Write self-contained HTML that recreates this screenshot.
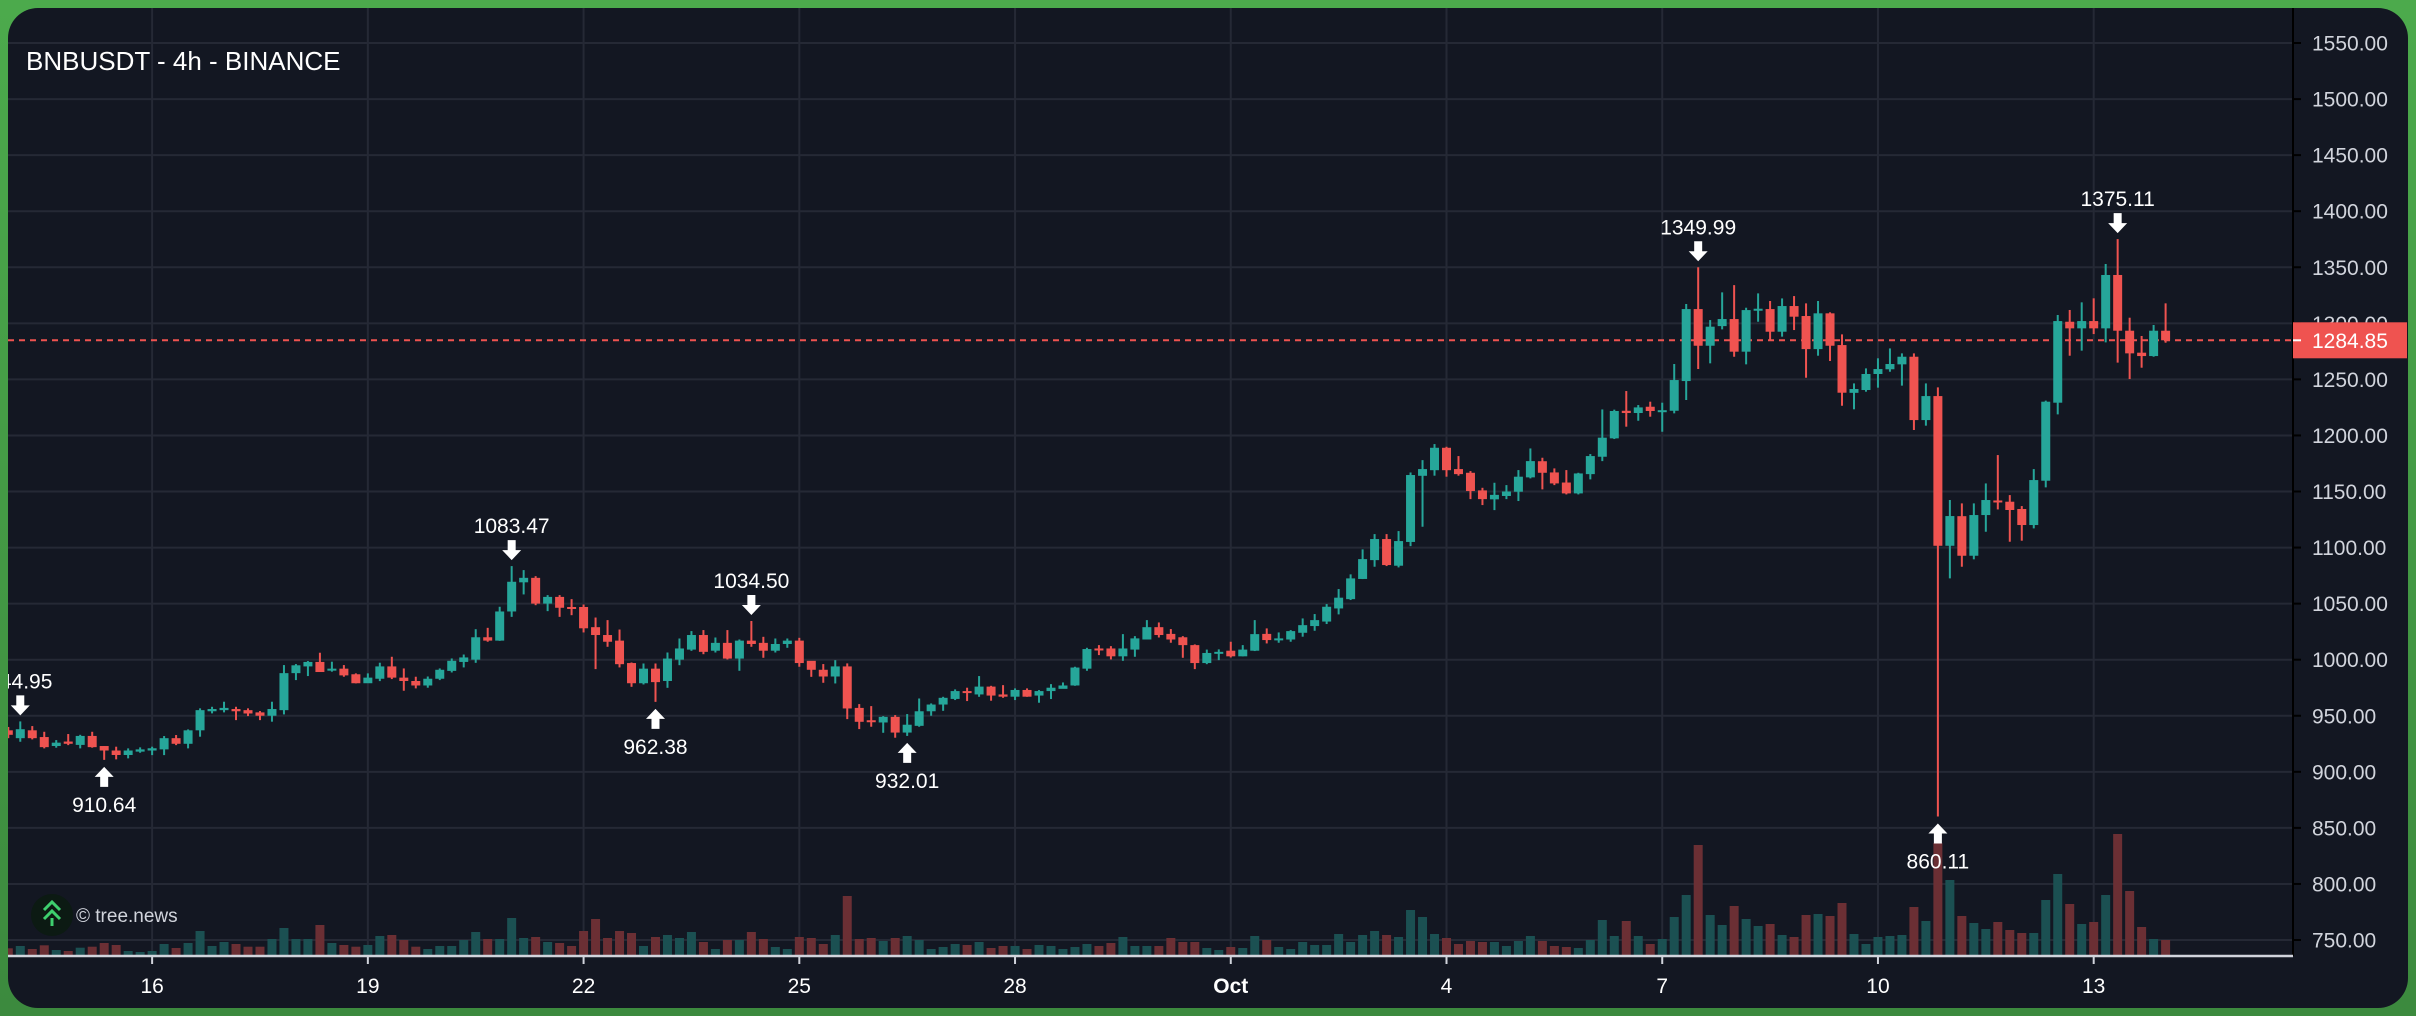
<!DOCTYPE html>
<html><head><meta charset="utf-8">
<style>
html,body{margin:0;padding:0;width:2416px;height:1016px;overflow:hidden;background:linear-gradient(#4caa4c,#3c8a3e);}
#wrap{position:absolute;left:0;top:0;width:2416px;height:1016px;}
svg{display:block;font-family:"Liberation Sans",sans-serif;}
</style></head>
<body>
<div id="wrap">
<svg id="chart" width="2416" height="1016" viewBox="0 0 2416 1016">
<defs><clipPath id="panel"><rect x="8" y="8" width="2400" height="1000" rx="30" ry="30"/></clipPath>
<clipPath id="plot"><rect x="8" y="8" width="2285" height="948"/></clipPath></defs>
<g clip-path="url(#panel)">
<rect x="8" y="8" width="2400" height="1000" fill="#131722"/>
<g id="grid"></g>
<g id="plotg" clip-path="url(#plot)">
<g id="vol"></g>
<line id="priceline"/>
<g id="candles"></g>
</g>
<g id="marks"></g>
<g id="axes"></g>
<text x="26" y="70" font-size="26" fill="#ffffff">BNBUSDT - 4h - BINANCE</text>
<g>
<circle cx="52" cy="915" r="21" fill="#0c1a13"/>
<path d="M44 910 L52 902 L60 910 M44 919 L52 911 L60 919" stroke="#3ecf6e" stroke-width="3" fill="none"/>
<line x1="52" y1="918" x2="52" y2="926" stroke="#3ecf6e" stroke-width="3"/>
<text x="76" y="922" font-size="19" fill="#d1d4dc">© tree.news</text>
</g>
</g>
</svg>
</div>
<script>
const opens=[937,930,937,931,923,927,924,932,923,919,915,918,919,920,930,925,937,954,955,956,955,953,950,955,988,994,998,991,992,987,979,983,994,984,981,977,983,990,998,1000,1020,1017,1043,1069,1073,1050,1056,1047,1047,1029,1022,1017,997,979,992,981,1000,1009,1022,1008,1015,1001,1017,1015,1008,1014,1017,999,991,985,994,957,946,944,949,935,941,954,960,965,972,969,976,969,967,973,968,972,974,977,992,1010,1010,1003,1009,1018,1029,1023,1020,1013,997,1006,1008,1003,1008,1023,1018,1018,1024,1030,1034,1045.7,1054,1072,1088.8,1107.6,1083.8,1105,1164,1169,1189,1170,1166.7,1151,1143,1146,1149.8,1162.6,1177,1167,1158,1148.3,1165.5,1181,1197.4,1222,1220,1225.6,1221,1222,1248.5,1312.7,1280,1297.5,1303.8,1274.7,1312,1312.7,1292.5,1315.4,1306.5,1277,1308.9,1280.6,1238,1240.5,1254.8,1259,1263.4,1270.2,1213.7,1235.1,1101.6,1128,1092.7,1129,1142,1140.9,1134.4,1120.1,1159.6,1229.2,1301.4,1295.5,1302,1295.5,1343.1,1293.4,1273.8,1270.8,1293.4];
const closes=[933,938,930,922,926,925,932,922,919,915,919,920,921,930,925,937,955,956,957,954,952,950,956,988,995,998,989,992,986,979,984,994,984,981,977,983,991,999,1002,1020,1017,1043,1069.5,1073,1050,1056,1046.3,1046,1028,1022,1016,996,979,992,980,1001,1010,1022,1007,1015,1001,1017,1014,1008,1014,1017,997,991,985,994,956.5,944.6,945,949,935,942,954,960,966,972,971,976,968,967,973,967,972,975,977,993,1009.5,1009,1003,1010,1019,1029,1022,1018,1013,997,1006,1007,1003,1009,1022.8,1017.5,1019,1025.5,1030.8,1035.3,1047.2,1055.3,1072.5,1089.7,1107.6,1084.4,1105.8,1164.7,1170,1189,1169,1165.5,1150.4,1143.2,1147,1150,1163.2,1177.1,1166.7,1157.2,1148.3,1166.1,1181.6,1198,1221.8,1220,1225,1221.8,1222.5,1249.4,1312.7,1280,1297,1303.8,1274.7,1311.8,1313,1292.5,1315.4,1305.9,1277,1308.9,1280,1238.1,1241.4,1254.8,1259.2,1263.7,1270.2,1213.7,1235.1,1101.6,1128.1,1092.7,1129,1142.4,1141,1133.5,1120.1,1160.2,1230.1,1302,1295.5,1302,1295.5,1343.1,1293.4,1273.2,1270.8,1293.4,1284.85];
const highs=[940,944.95,940.8,935.7,928.3,933.7,933,935.7,923,922.4,920.9,921.8,922.4,931.9,932.8,937.8,956.6,958,962.5,958,956.6,954.2,962.5,995.2,996.1,998.8,1006.2,998.2,995.2,987.8,987.8,997.3,1002.6,992.2,984.8,985,992.2,1001.1,1004.6,1027.2,1028.4,1047.2,1083.47,1079.9,1074.5,1057.6,1057.6,1054,1049.2,1037.6,1035.3,1026.9,997.5,996.6,996.6,1006.4,1018.9,1025.5,1026.4,1019.8,1026.4,1018,1034.5,1020.4,1018.9,1018.9,1019.5,998.7,996.1,999.6,996.7,960.4,958.6,949.7,950.6,951.5,965.4,961,966.9,973.5,975,985.4,976.7,977.3,974.4,974.4,972.9,978.2,979.7,993.7,1010.6,1013,1012.1,1022.8,1021,1035.3,1033.2,1027.3,1021,1013.6,1009,1009.2,1016,1013,1035.3,1027.9,1024.3,1026.4,1036.8,1040.7,1049.6,1063,1076.1,1098.4,1112,1112,1114.7,1167,1178,1192.3,1189.9,1181.6,1168.2,1153.3,1157.8,1155.7,1169.1,1188.4,1180.1,1170.6,1169.1,1166.7,1183.4,1223.2,1223,1239.6,1227.1,1230.1,1229.2,1263.7,1317.2,1349.99,1302.9,1327.6,1334.1,1313.9,1326.7,1319.9,1322.2,1324.3,1317.8,1319.9,1309.8,1290.1,1246.4,1259.8,1268.8,1277.6,1273.2,1273.2,1246.4,1242.9,1142.4,1139.4,1139.4,1157.2,1182.5,1146.8,1137,1170,1231,1307.4,1311.9,1318.7,1322.3,1352.9,1375.11,1305,1288.7,1298.5,1317.8];
const lows=[930,926.8,928.9,920.9,921.5,923.8,920.9,921.5,910.64,911.1,912,917,914.9,914.9,923.8,920.9,931.3,952.1,953,946.1,949.7,946.1,944.7,951.2,981.8,985.4,989.3,989.3,984.8,978.9,979.4,980.9,982.7,972.3,974.4,975,981.8,988.6,993.1,997.2,1016,1016.8,1038.2,1058.2,1048.6,1043.3,1038.2,1039.7,1024.3,991.6,1011.5,993.1,975.8,977.9,962.38,974.9,995.1,1007.9,1004.9,1006.4,1000.2,990.1,1011.5,1001.7,1006.4,1010.6,993.7,984.7,979.4,978.8,947,938.1,940.2,934.8,930.4,932.01,940.2,950,954.4,964,963.1,966.9,963.4,966,964,966.9,961.6,964.9,974.4,976.7,990.1,1004.1,1000.2,999,1002.6,1018,1019.8,1015.1,1001.7,991.6,996,999.6,1002,1003,1007.7,1014.5,1015.1,1016,1020.5,1025.8,1031.8,1040.4,1053.2,1071.9,1082.9,1083.5,1082.3,1101.3,1118.6,1164.1,1163.2,1164.1,1143.2,1137.9,1133.4,1143.2,1141.5,1161.7,1151.9,1155.7,1147.4,1147.4,1160.8,1177.1,1196.8,1207.8,1213.1,1216.7,1203.3,1219.7,1231.6,1259.2,1264.3,1294.6,1270.2,1263.4,1301.4,1285.1,1288.1,1294,1251.5,1271.1,1266.4,1226.5,1223.3,1239,1242.6,1256.8,1244.4,1204.8,1208.7,860.11,1072.5,1082.9,1089.5,1114.1,1134,1105.2,1106.1,1117.1,1153.7,1218.8,1271.1,1275.6,1290.4,1283,1264.9,1250.3,1260.4,1270.2,1282.7];
const volumes=[6.7,9,6,9.7,5,4,7.3,8.3,12,10,4,3,4,11,7,12,24,9,13,11,8.3,8.3,16,27,16,16,30,12,10,8.3,10,19,20,15,8.3,6,9,9,15,23,16,16,37,17,18,13,12,9,24,36,17,24,22,9,18,20,17,23,13,6,15,15,23,16,8,6,18,17,11,20,59,16,17,14,17,19,15,6,8,11,10,13,7,9,9,6,10,9,6,8,11,9,12,18,9,9,9,17,13,13,7,5,8,7,19,15,8,6,13,10,10,21,13,20,24,20,18,45,38,21,17,11,14,13,13,9,14,19,14,9,8,7,15,35,19,34,19,11,16,38,60,110,40,30,49,36,29,31,20,18,40,41,39,52,21,11,18,19,20,48,34,112,75,39,32,26,33,25,22,22,55,81,51,31,33,60,121,64,28,16,15];
const priceTicks=[1550,1500,1450,1400,1350,1300,1250,1200,1150,1100,1050,1000,950,900,850,800,750];
const dateLabels=["16","19","22","25","28","Oct","4","7","10","13"];
const dateIndex=[12,30,48,66,84,102,120,138,156,174];
const lastPrice=1284.85;
const highMarks=[1,42,62,141,176];
const lowMarks=[8,54,75,161];

const NS="http://www.w3.org/2000/svg";
const y=p=>43+(1550-p)*1.12125;
const x=i=>8.3+i*11.985;
const vh=v=>v*1.0;
const VBASE=955;
function mk(tag,attrs,parent){const e=document.createElementNS(NS,tag);for(const k in attrs)e.setAttribute(k,attrs[k]);parent.appendChild(e);return e;}
const grid=document.getElementById('grid'),vol=document.getElementById('vol'),cg=document.getElementById('candles'),marks=document.getElementById('marks'),axes=document.getElementById('axes');

priceTicks.forEach(p=>{const l=mk('line',{x1:8,x2:2293,y1:y(p),y2:y(p),stroke:'#252935','stroke-width':2},grid);

});
dateIndex.forEach(i=>{const l=mk('line',{x1:x(i),x2:x(i),y1:8,y2:956,stroke:'#252935','stroke-width':2},grid);

});

volumes.forEach((v,i)=>{const up=closes[i]>=opens[i];
const r=mk('rect',{x:x(i)-4.5,y:VBASE-vh(v),width:9,height:vh(v),fill:up?'#1b5052':'#6b2f34'},vol);

});

const pl=document.getElementById('priceline');
pl.setAttribute('x1',8);pl.setAttribute('x2',2293);pl.setAttribute('y1',y(lastPrice));pl.setAttribute('y2',y(lastPrice));
pl.setAttribute('stroke','#ef5350');pl.setAttribute('stroke-width',2);pl.setAttribute('stroke-dasharray','6 5');

opens.forEach((o,i)=>{const c=closes[i],up=c>=o,col=up?'#26a69a':'#ef5350';
const g=mk('g',{},cg);


mk('line',{x1:x(i),x2:x(i),y1:y(highs[i]),y2:y(lows[i]),stroke:col,'stroke-width':2},g);
const t=y(Math.max(o,c)),b=y(Math.min(o,c));
mk('rect',{x:x(i)-4.5,y:t,width:9,height:Math.max(2,b-t),fill:col},g);});

function arrow(cx,tip,down,parent){const d=down?1:-1;const base=tip-d*20,neck=tip-d*10;
mk('path',{d:`M${cx-4} ${base} L${cx+4} ${base} L${cx+4} ${neck} L${cx+9.5} ${neck} L${cx} ${tip} L${cx-9.5} ${neck} L${cx-4} ${neck} Z`,fill:'#ffffff'},parent);}
highMarks.forEach(i=>{const g=mk('g',{},marks);


const hy=y(highs[i]);arrow(x(i),hy-6,true,g);
const t=mk('text',{x:x(i),y:hy-33,'font-size':21,fill:'#ffffff','text-anchor':'middle'},g);t.textContent=highs[i].toFixed(2);});
lowMarks.forEach(i=>{const g=mk('g',{},marks);


const ly=y(lows[i]);arrow(x(i),ly+7,false,g);
const t=mk('text',{x:x(i),y:ly+52,'font-size':21,fill:'#ffffff','text-anchor':'middle'},g);t.textContent=lows[i].toFixed(2);});

const ya=mk('g',{},axes);


mk('line',{x1:2293,x2:2293,y1:8,y2:956,stroke:'#000000','stroke-width':2},ya);
priceTicks.forEach(p=>{mk('line',{x1:2293,x2:2301,y1:y(p),y2:y(p),stroke:'#000000','stroke-width':2},ya);
const t=mk('text',{x:2312,y:y(p)+7.5,'font-size':21,fill:'#d1d4dc'},ya);


t.textContent=p.toFixed(2);});
const pb=mk('g',{},axes);


mk('rect',{x:2293,y:y(lastPrice)-18,width:114,height:36,fill:'#ef5350'},pb);
mk('line',{x1:2293,x2:2301,y1:y(lastPrice),y2:y(lastPrice),stroke:'#ffffff','stroke-width':2},pb);
const pt=mk('text',{x:2312,y:y(lastPrice)+7.5,'font-size':21,fill:'#ffffff'},pb);pt.textContent=lastPrice.toFixed(2);

const xa=mk('g',{},axes);


mk('line',{x1:8,x2:2293,y1:956,y2:956,stroke:'#d1d4dc','stroke-width':2.5},xa);
dateIndex.forEach((i,k)=>{mk('line',{x1:x(i),x2:x(i),y1:956,y2:964,stroke:'#d1d4dc','stroke-width':2},xa);
const t=mk('text',{x:x(i),y:993,'font-size':21,fill:'#ffffff','text-anchor':'middle','font-weight':dateLabels[k]==='Oct'?'bold':'normal'},xa);


t.textContent=dateLabels[k];});
</script>
</body></html>
